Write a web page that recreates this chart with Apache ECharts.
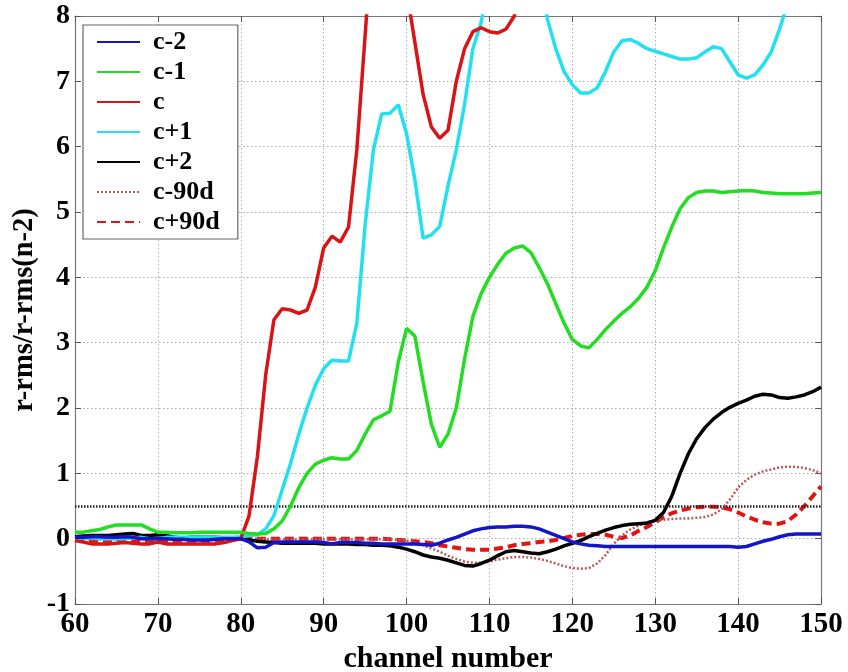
<!DOCTYPE html>
<html>
<head>
<meta charset="utf-8">
<script src="https://cdn.jsdelivr.net/npm/echarts@6/dist/echarts.min.js"></script>
<style>
html,body{margin:0;padding:0;background:#fff;}
#chart{width:848px;height:672px;}
</style>
</head>
<body>
<div id="chart"></div>
<script>
// channel numbers 60..150
const channels = [];
for (let c = 60; c <= 150; c++) channels.push(c);

const xTicks = [60, 70, 80, 90, 100, 110, 120, 130, 140, 150];
const yTicks = [-1, 0, 1, 2, 3, 4, 5, 6, 7, 8];
const threshold = 0.5;

const seriesNames = ['c-2', 'c-1', 'c', 'c+1', 'c+2', 'c-90d', 'c+90d'];

const cMinus2 = [
  0.02, 0.02, 0.03, 0.03, 0.02, 0.02, 0.03, 0.02, 0.00, 0.00,
  0.00, 0.00, -0.01, -0.01, -0.02, -0.02, -0.02, -0.01, 0.00, 0.00,
  0.00, -0.05, -0.14, -0.13, -0.06, -0.05, -0.05, -0.05, -0.05, -0.05,
  -0.06, -0.08, -0.06, -0.06, -0.06, -0.07, -0.07, -0.08, -0.08, -0.08,
  -0.08, -0.08, -0.09, -0.10, -0.07, -0.02, 0.02, 0.07, 0.12, 0.15,
  0.17, 0.18, 0.18, 0.19, 0.19, 0.18, 0.15, 0.10, 0.05, 0.00,
  -0.05, -0.08, -0.10, -0.11, -0.12, -0.12, -0.12, -0.12, -0.12, -0.12,
  -0.12, -0.12, -0.12, -0.12, -0.12, -0.12, -0.12, -0.12, -0.12, -0.12,
  -0.13, -0.12, -0.08, -0.04, -0.01, 0.03, 0.06, 0.07, 0.07, 0.07,
  0.07
];

const cMinus1 = [
  0.10, 0.10, 0.12, 0.14, 0.18, 0.21, 0.21, 0.21, 0.21, 0.15,
  0.10, 0.10, 0.09, 0.09, 0.09, 0.10, 0.10, 0.10, 0.10, 0.10,
  0.10, 0.08, 0.07, 0.08, 0.15, 0.27, 0.50, 0.78, 1.00, 1.14,
  1.20, 1.24, 1.22, 1.22, 1.35, 1.60, 1.82, 1.88, 1.95, 2.70,
  3.22, 3.10, 2.40, 1.75, 1.40, 1.60, 2.00, 2.75, 3.40, 3.75,
  4.00, 4.20, 4.37, 4.45, 4.48, 4.38, 4.15, 3.90, 3.60, 3.30,
  3.05, 2.95, 2.92, 3.05, 3.20, 3.33, 3.45, 3.55, 3.68, 3.85,
  4.10, 4.45, 4.77, 5.05, 5.22, 5.30, 5.32, 5.32, 5.30, 5.31,
  5.32, 5.33, 5.32, 5.30, 5.29, 5.28, 5.28, 5.28, 5.28, 5.29,
  5.30
];

const cCenter = [
  -0.03, -0.05, -0.08, -0.08, -0.08, -0.07, -0.06, -0.07, -0.08, -0.08,
  -0.05, -0.08, -0.08, -0.08, -0.08, -0.08, -0.08, -0.08, -0.06, -0.03,
  0.00, 0.35, 1.25, 2.50, 3.35, 3.52, 3.50, 3.45, 3.50, 3.85,
  4.45, 4.63, 4.54, 4.77, 5.95, 7.70, 9.50, 10.50, 10.50, 9.50,
  8.40, 7.60, 6.80, 6.30, 6.13, 6.25, 7.00, 7.50, 7.76, 7.82,
  7.76, 7.74, 7.80, 8.00, 8.60, 9.20, 9.60, 9.90, 10.10, 10.30,
  10.40, 10.50, 10.60, 10.70, 10.80, 10.90, 11.00, 11.10, 11.20, 11.30,
  11.40, 11.50, 11.60, 11.70, 11.80, 11.90, 12.00, 12.10, 12.20, 12.30,
  12.40, 12.50, 12.60, 12.70, 12.80, 12.90, 13.00, 13.10, 13.20, 13.30,
  13.40
];

const cPlus1 = [
  0.00, 0.01, 0.01, 0.00, 0.00, 0.00, 0.00, 0.01, 0.02, 0.00,
  0.00, 0.02, 0.02, 0.02, 0.02, 0.02, 0.02, 0.02, 0.02, 0.02,
  0.03, 0.05, 0.06, 0.15, 0.35, 0.75, 1.15, 1.60, 2.00, 2.35,
  2.60, 2.73, 2.72, 2.72, 3.30, 4.80, 5.95, 6.50, 6.51, 6.64,
  6.20, 5.50, 4.60, 4.65, 4.78, 5.40, 5.95, 6.65, 7.50, 7.90,
  8.60, 9.30, 9.80, 10.00, 10.00, 9.60, 8.70, 7.95, 7.50, 7.15,
  6.95, 6.82, 6.82, 6.90, 7.15, 7.45, 7.62, 7.64, 7.58, 7.50,
  7.46, 7.42, 7.38, 7.34, 7.34, 7.36, 7.45, 7.53, 7.50, 7.30,
  7.10, 7.05, 7.10, 7.25, 7.45, 7.80, 8.20, 8.80, 9.40, 9.90,
  10.40
];

const cPlus2 = [
  0.03, 0.04, 0.05, 0.05, 0.05, 0.06, 0.07, 0.08, 0.05, 0.05,
  0.06, 0.05, 0.02, 0.01, 0.02, 0.02, 0.02, 0.02, 0.01, 0.00,
  0.00, -0.02, -0.04, -0.05, -0.06, -0.07, -0.07, -0.07, -0.07, -0.07,
  -0.08, -0.08, -0.08, -0.08, -0.09, -0.09, -0.10, -0.10, -0.11, -0.13,
  -0.16, -0.20, -0.25, -0.28, -0.30, -0.33, -0.37, -0.41, -0.42, -0.38,
  -0.33, -0.26, -0.20, -0.18, -0.20, -0.22, -0.23, -0.20, -0.16, -0.11,
  -0.07, -0.03, 0.03, 0.08, 0.13, 0.17, 0.20, 0.22, 0.23, 0.24,
  0.28, 0.40, 0.65, 1.00, 1.30, 1.53, 1.70, 1.83, 1.93, 2.01,
  2.07, 2.12, 2.18, 2.21, 2.20, 2.16, 2.15, 2.17, 2.20, 2.25,
  2.32
];

const cMinus90d = [
  0.00, 0.00, -0.01, -0.01, -0.01, -0.01, 0.00, 0.00, -0.01, -0.01,
  0.00, -0.02, -0.02, -0.02, -0.02, -0.02, -0.02, -0.02, -0.01, 0.00,
  0.00, 0.00, 0.00, -0.01, -0.01, -0.01, -0.01, -0.01, -0.01, -0.01,
  -0.01, -0.01, -0.01, -0.01, -0.01, -0.01, -0.01, -0.01, -0.01, -0.02,
  -0.03, -0.06, -0.10, -0.15, -0.20, -0.26, -0.31, -0.35, -0.37, -0.37,
  -0.35, -0.32, -0.30, -0.28, -0.28, -0.29, -0.31, -0.34, -0.38, -0.42,
  -0.45, -0.46, -0.45, -0.38, -0.25, -0.08, 0.05, 0.14, 0.20, 0.24,
  0.27, 0.29, 0.30, 0.31, 0.31, 0.32, 0.33, 0.37, 0.45, 0.60,
  0.78, 0.90, 0.98, 1.03, 1.06, 1.09, 1.10, 1.10, 1.08, 1.05,
  1.00
];

const cPlus90d = [
  -0.02, -0.03, -0.03, -0.03, -0.03, -0.03, -0.03, -0.03, -0.03, -0.03,
  -0.02, -0.03, -0.03, -0.03, -0.03, -0.03, -0.03, -0.03, -0.02, -0.01,
  0.00, 0.00, 0.00, 0.00, 0.00, 0.00, 0.00, 0.00, 0.00, 0.00,
  0.00, 0.00, 0.00, 0.00, 0.00, 0.00, 0.00, 0.00, -0.01, -0.02,
  -0.03, -0.04, -0.05, -0.07, -0.10, -0.12, -0.14, -0.16, -0.17, -0.17,
  -0.17, -0.15, -0.13, -0.10, -0.08, -0.07, -0.05, -0.04, -0.02, 0.01,
  0.04, 0.06, 0.07, 0.07, 0.06, 0.03, 0.01, 0.05, 0.12, 0.18,
  0.25, 0.33, 0.39, 0.43, 0.46, 0.48, 0.49, 0.49, 0.48, 0.45,
  0.40, 0.34, 0.29, 0.25, 0.23, 0.23, 0.27, 0.37, 0.50, 0.65,
  0.80
];

const seriesValues = [cMinus2, cMinus1, cCenter, cPlus1, cPlus2, cMinus90d, cPlus90d];
const seriesStyles = [
  { color: '#1414c8', width: 3.5, type: 'solid' },
  { color: '#22dd22', width: 3.5, type: 'solid' },
  { color: '#d81414', width: 3.5, type: 'solid' },
  { color: '#22e0ee', width: 3.5, type: 'solid' },
  { color: '#000000', width: 3.5, type: 'solid' },
  { color: '#b85a5a', width: 2.5, type: [2, 2] },
  { color: '#e01414', width: 4, type: [9, 5] }
];

const FONT = '"Liberation Serif", "Times New Roman", serif';
const chart = echarts.init(document.getElementById('chart'), null, { renderer: 'canvas' });

const series = seriesNames.map((name, i) => ({
  name: name,
  type: 'line',
  data: channels.map((c, k) => [c, seriesValues[i][k]]),
  symbol: 'none',
  smooth: false,
  clip: true,
  z: 10 - i,
  color: seriesStyles[i].color,
  lineStyle: seriesStyles[i],
  animation: false
}));
series.push({
  name: 'threshold',
  type: 'line',
  data: [],
  markLine: {
    silent: true,
    symbol: 'none',
    label: { show: false },
    lineStyle: { color: '#222', width: 2.5, type: [1.5, 1.5] },
    data: [{ yAxis: threshold }]
  },
  animation: false
});

const gridLine = { show: true, lineStyle: { color: '#aaaaaa', width: 1, type: [1.5, 2.5] } };
const frameLine = { show: true, onZero: false, lineStyle: { color: '#777777', width: 1.2 } };

chart.setOption({
  backgroundColor: '#ffffff',
  animation: false,
  grid: { left: 75, right: 27, top: 16, bottom: 68, containLabel: false, outerBoundsMode: 'none' },
  legend: {
    data: seriesNames,
    orient: 'vertical',
    left: 83,
    top: 25,
    itemWidth: 43,
    itemHeight: 14,
    itemGap: 4,
    padding: [4, 18, 4, 13],
    backgroundColor: '#ffffff',
    borderColor: '#666666',
    borderWidth: 1.2,
    itemStyle: { opacity: 0 },
    textStyle: { fontFamily: FONT, fontWeight: 'bold', fontSize: 26, color: '#000', lineHeight: 26, padding: [0, 0, 0, 8] }
  },
  xAxis: [
    {
      type: 'value', min: 60, max: 150, interval: 10, position: 'bottom',
      name: 'channel number', nameLocation: 'middle', nameGap: 34,
      nameTextStyle: { fontFamily: FONT, fontWeight: 'bold', fontSize: 30, color: '#000' },
      axisLine: frameLine,
      axisTick: { show: true, inside: true, length: 6, lineStyle: { color: '#555' } },
      axisLabel: { fontFamily: FONT, fontWeight: 'bold', fontSize: 29, color: '#000', margin: 6,
        formatter: v => xTicks.includes(v) ? String(v) : '' },
      splitLine: gridLine
    },
    {
      type: 'value', min: 60, max: 150, interval: 10, position: 'top',
      axisLine: frameLine,
      axisTick: { show: true, inside: true, length: 6, lineStyle: { color: '#555' } },
      axisLabel: { show: false }, splitLine: { show: false }
    }
  ],
  yAxis: [
    {
      type: 'value', min: -1, max: 8, interval: 1, position: 'left',
      name: 'r-rms/r-rms(n-2)', nameLocation: 'middle', nameGap: 36, nameRotate: 90,
      nameMoveOverlap: false,
      nameTextStyle: { fontFamily: FONT, fontWeight: 'bold', fontSize: 28.5, color: '#000' },
      axisLine: frameLine,
      axisTick: { show: true, inside: true, length: 6, lineStyle: { color: '#555' } },
      axisLabel: { fontFamily: FONT, fontWeight: 'bold', fontSize: 28, color: '#000', margin: 5,
        formatter: v => yTicks.includes(v) ? String(v) : '' },
      splitLine: gridLine
    },
    {
      type: 'value', min: -1, max: 8, interval: 1, position: 'right',
      axisLine: frameLine,
      axisTick: { show: true, inside: true, length: 6, lineStyle: { color: '#555' } },
      axisLabel: { show: false }, splitLine: { show: false }
    }
  ],
  series: series
});
</script>
</body>
</html>
